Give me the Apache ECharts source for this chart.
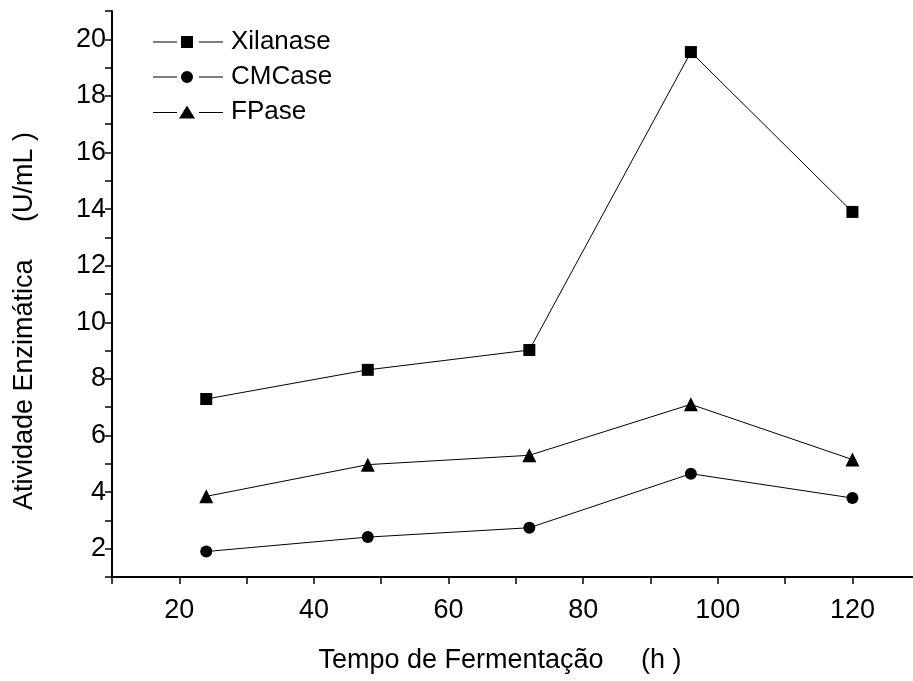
<!DOCTYPE html>
<html>
<head>
<meta charset="utf-8">
<script src="https://cdn.jsdelivr.net/npm/echarts@6/dist/echarts.min.js"></script>
<style>
html, body { margin: 0; padding: 0; background: #fff; }
#main { width: 913px; height: 681px; }
</style>
</head>
<body>
<div id="main"></div>
<script>
// 数据
const tempo = [24, 48, 72, 96, 120];
const xilanase = [7.29, 8.32, 9.02, 19.55, 13.9];
const cmcase = [1.9, 2.41, 2.74, 4.65, 3.79];
const fpase = [3.85, 4.97, 5.3, 7.1, 5.15];

const toPairs = function(xs, ys) {
    let arr = [];
    for (let i = 0; i < xs.length; i++) {
        arr.push([xs[i], ys[i]]);
    }
    return arr;
};

// 图例图标: 线段 - 符号 - 线段
const iconRect = 'path://M0,5.5L24,5.5L24,6.5L0,6.5Z M28,0L40,0L40,12L28,12Z M46,5.5L70,5.5L70,6.5L46,6.5Z';
const iconCircle = 'path://M0,5.5L24,5.5L24,6.5L0,6.5Z M40,6A6,6 0 1,1 28,6A6,6 0 1,1 40,6Z M46,5.5L70,5.5L70,6.5L46,6.5Z';
const iconTri = 'path://M0,5.5L24,5.5L24,6.5L0,6.5Z M34,-1L42,12L26,12Z M46,5.5L70,5.5L70,6.5L46,6.5Z';

let myChart = echarts.init(document.getElementById('main'));

const fontName = '"Liberation Sans", Arial, sans-serif';

let option = {
    backgroundColor: '#fff',
    animation: false,
    textStyle: { fontFamily: fontName },
    grid: {
        left: 112,
        right: 0,
        top: 11,
        bottom: 104,
        containLabel: false,
        outerBoundsMode: 'none'
    },
    legend: {
        orient: 'vertical',
        left: 153,
        top: 29,
        padding: 0,
        itemWidth: 70,
        itemHeight: 13,
        itemGap: 9,
        textStyle: {
            fontFamily: fontName,
            fontSize: 26,
            color: '#000',
            padding: [0, 0, 0, 3]
        },
        data: [
            { name: 'Xilanase', icon: iconRect },
            { name: 'CMCase', icon: iconCircle },
            { name: 'FPase', icon: iconTri }
        ]
    },
    xAxis: {
        type: 'value',
        min: 10,
        max: 129,
        interval: 10,
        name: 'Tempo de Fermentação     (h )',
        nameLocation: 'middle',
        nameGap: 70,
        nameTextStyle: { fontFamily: fontName, fontSize: 27, color: '#000', padding: [0, 25, 0, 0] },
        splitLine: { show: false },
        axisLine: { lineStyle: { color: '#000', width: 2 } },
        axisTick: { inside: false, length: 7, lineStyle: { color: '#000', width: 1.5 } },
        axisLabel: {
            fontFamily: fontName,
            fontSize: 27,
            color: '#000',
            margin: 20,
            showMaxLabel: false,
            formatter: function(v) {
                return (v % 20 === 0 && v <= 120) ? String(v) : '';
            }
        }
    },
    yAxis: {
        type: 'value',
        min: 1,
        max: 21,
        interval: 1,
        name: 'Atividade Enzimática     (U/mL )',
        nameLocation: 'middle',
        nameGap: 74,
        nameTextStyle: { fontFamily: fontName, fontSize: 27, color: '#000', padding: [0, 54, 0, 0] },
        splitLine: { show: false },
        axisLine: { lineStyle: { color: '#000', width: 2 } },
        axisTick: { inside: false, length: 7, lineStyle: { color: '#000', width: 1.5 } },
        axisLabel: {
            fontFamily: fontName,
            fontSize: 27,
            color: '#000',
            margin: 6,
            formatter: function(v) {
                return (v % 2 === 0) ? String(v) : '';
            }
        }
    },
    series: [{
        name: 'Xilanase',
        type: 'line',
        symbol: 'rect',
        symbolSize: 12,
        color: '#000',
        lineStyle: { color: '#000', width: 1 },
        itemStyle: { color: '#000' },
        data: toPairs(tempo, xilanase)
    }, {
        name: 'CMCase',
        type: 'line',
        symbol: 'circle',
        symbolSize: 12,
        color: '#000',
        lineStyle: { color: '#000', width: 1 },
        itemStyle: { color: '#000' },
        data: toPairs(tempo, cmcase)
    }, {
        name: 'FPase',
        type: 'line',
        symbol: 'triangle',
        symbolSize: 14,
        color: '#000',
        lineStyle: { color: '#000', width: 1 },
        itemStyle: { color: '#000' },
        data: toPairs(tempo, fpase)
    }]
};

myChart.setOption(option);

window.addEventListener("resize", function() {
    myChart.resize();
});
</script>
</body>
</html>
